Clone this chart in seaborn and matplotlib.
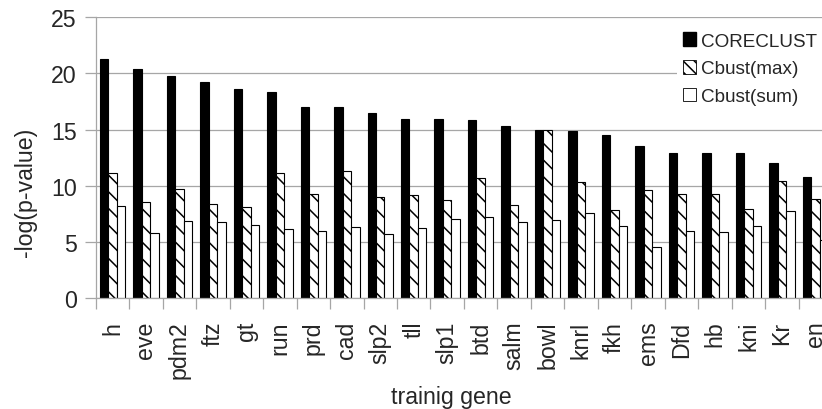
import seaborn as sns
import matplotlib.pyplot as plt
import pandas as pd
from matplotlib.patches import Patch

genes = ['h', 'eve', 'pdm2', 'ftz', 'gt', 'run', 'prd', 'cad', 'slp2', 'tll', 'slp1',
         'btd', 'salm', 'bowl', 'knrl', 'fkh', 'ems', 'Dfd', 'hb', 'kni', 'Kr', 'en']
coreclust = [21.3, 20.4, 19.8, 19.2, 18.65, 18.35, 17.0, 17.0, 16.5, 15.95, 15.95,
             15.85, 15.3, 14.95, 14.9, 14.55, 13.5, 12.95, 12.95, 12.9, 12.0, 10.8]
cbust_max = [11.1, 8.55, 9.75, 8.35, 8.1, 11.15, 9.3, 11.3, 9.0, 9.2, 8.7,
             10.7, 8.3, 14.95, 10.3, 7.85, 9.65, 9.3, 9.3, 7.9, 10.45, 8.8]
cbust_sum = [8.15, 5.8, 6.9, 6.75, 6.5, 6.15, 5.95, 6.3, 5.7, 6.2, 7.0,
             7.2, 6.75, 6.95, 7.55, 6.4, 4.55, 5.95, 5.9, 6.45, 7.75, 5.2]
methods = ['CORECLUST', 'Cbust(max)', 'Cbust(sum)']
yticks = [0, 5, 10, 15, 20, 25]

df = pd.DataFrame({
    'gene': genes * 3,
    'method': [m for m in methods for _ in genes],
    'value': coreclust + cbust_max + cbust_sum,
})

sns.set_theme(style='white')
plt.rcParams['font.family'] = ['Liberation Sans', 'DejaVu Sans']
plt.rcParams['hatch.linewidth'] = 1.1

grey = '#a6a6a6'
fs = 16.7

fig = plt.figure(figsize=(8.22, 4.10), dpi=100)
# axes run past the right edge, like the cropped original
ax = fig.add_axes([95.7 / 822, 111 / 410, 736.5 / 822, 280.7 / 410])
ax.set_axisbelow(True)

palette = {'CORECLUST': 'black', 'Cbust(max)': 'white', 'Cbust(sum)': 'white'}
sns.barplot(data=df, x='gene', y='value', hue='method', hue_order=methods, order=genes,
            palette=palette, saturation=1, width=0.76, edgecolor='black',
            linewidth=0.8, legend=False, ax=ax)
for bar in ax.containers[1]:
    bar.set_hatch('\\\\')

ax.set_ylim(0, 25)
ax.set_xlim(-0.5, len(genes) - 0.5)
ax.set_yticks(yticks)
ax.yaxis.grid(True, color=grey, linewidth=0.9)
ax.xaxis.grid(False)

ax.set_xticks(range(len(genes)))
ax.set_xticklabels(genes, rotation=90)
ax.set_xticks([i - 0.5 for i in range(len(genes) + 1)], minor=True)
ax.tick_params(axis='x', which='major', length=0, pad=16.3, labelsize=fs)
ax.tick_params(axis='x', which='minor', bottom=True, length=8, color=grey, width=0.9, direction='out')
ax.tick_params(axis='y', left=True, length=7.7, color=grey, width=0.9, pad=6, labelsize=fs)

for s in ['top', 'right']:
    ax.spines[s].set_visible(False)
for s in ['left', 'bottom']:
    ax.spines[s].set_color(grey)
    ax.spines[s].set_linewidth(0.9)

ax.set_ylabel('-log(p-value)', fontsize=fs)
ax.yaxis.set_label_coords(-0.0801, 0.381)
ax.set_xlabel('trainig gene', fontsize=fs)
ax.xaxis.set_label_coords(0.4824, -0.31)

handles = [
    Patch(facecolor='black', edgecolor='black', label=methods[0]),
    Patch(facecolor='white', edgecolor='black', hatch='\\\\\\', linewidth=0.6, label=methods[1]),
    Patch(facecolor='white', edgecolor='black', linewidth=0.6, label=methods[2]),
]
ax.legend(handles=handles, loc='upper left', bbox_to_anchor=(677 / 822, 1 - 27.5 / 410),
          bbox_transform=fig.transFigure, fontsize=13.6, frameon=True, framealpha=1,
          facecolor='white', edgecolor='none', fancybox=False, borderpad=0.3,
          handlelength=0.72, handleheight=0.72, handletextpad=0.25,
          labelspacing=0.56, borderaxespad=0)

fig.savefig('out.png', dpi=100)
